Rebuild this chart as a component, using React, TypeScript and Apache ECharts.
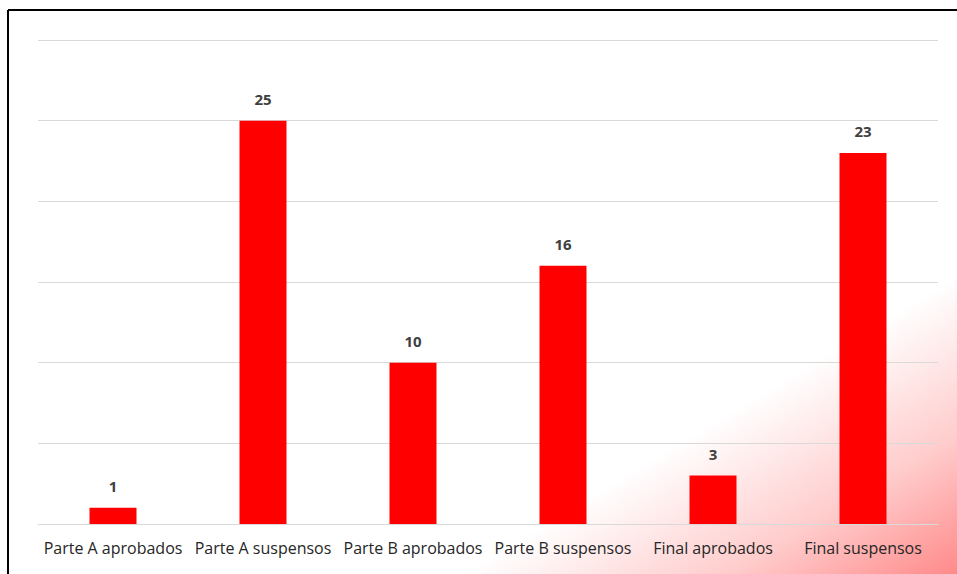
import React, { useEffect, useRef } from "react";
import * as echarts from "echarts";

const categories = [
  "Parte A aprobados",
  "Parte A suspensos",
  "Parte B aprobados",
  "Parte B suspensos",
  "Final aprobados",
  "Final suspensos",
];
const values = [1, 25, 10, 16, 3, 23];

export default function App() {
  const ref = useRef<HTMLDivElement>(null);
  useEffect(() => {
    if (!ref.current) return;
    const chart = echarts.init(ref.current, undefined, { renderer: "svg" });
    chart.setOption({
      animation: false,
      backgroundColor: "#ffffff",
      graphic: [
        {
          type: "rect",
          z: -10,
          silent: true,
          shape: { x: 0, y: 0, width: 957, height: 574 },
          style: {
            fill: new echarts.graphic.LinearGradient(0, 0, 1, 1, [
              { offset: 0, color: "rgba(255,0,0,0)" },
              { offset: 0.74, color: "rgba(255,0,0,0)" },
              { offset: 0.88, color: "rgba(255,0,0,0.2)" },
              { offset: 1, color: "rgba(255,0,0,0.46)" },
            ]),
          },
        },
        {
          type: "line",
          shape: { x1: 8, y1: 10, x2: 957, y2: 10 },
          style: { stroke: "#000", lineWidth: 2 },
        },
        {
          type: "line",
          shape: { x1: 8, y1: 10, x2: 8, y2: 574 },
          style: { stroke: "#000", lineWidth: 2 },
        },
      ],
      grid: { left: 38, right: 19, top: 40, bottom: 50, containLabel: false },
      xAxis: {
        type: "category",
        data: categories,
        axisTick: { show: false },
        axisLine: { show: true, lineStyle: { color: "#d9d9d9", width: 1 } },
        axisLabel: {
          color: "#262626",
          fontFamily: "Open Sans",
          fontSize: 16,
          margin: 16,
          interval: 0,
        },
      },
      yAxis: {
        type: "value",
        min: 0,
        max: 30,
        interval: 5,
        axisLabel: { show: false },
        axisLine: { show: false },
        axisTick: { show: false },
        splitLine: { lineStyle: { color: "#d9d9d9", width: 1 } },
      },
      series: [
        {
          type: "bar",
          data: values,
          barWidth: 47,
          itemStyle: { color: "#ff0000" },
          label: {
            show: true,
            position: "top",
            distance: 14,
            color: "#404040",
            fontWeight: "bold",
            fontFamily: "Open Sans",
            fontSize: 15,
          },
        },
      ],
    });
    return () => chart.dispose();
  }, []);
  return (
    <div
      style={{ position: "fixed", left: 0, top: 0, width: 957, height: 574 }}
    >
      <div ref={ref} style={{ width: 957, height: 574 }} />
    </div>
  );
}
